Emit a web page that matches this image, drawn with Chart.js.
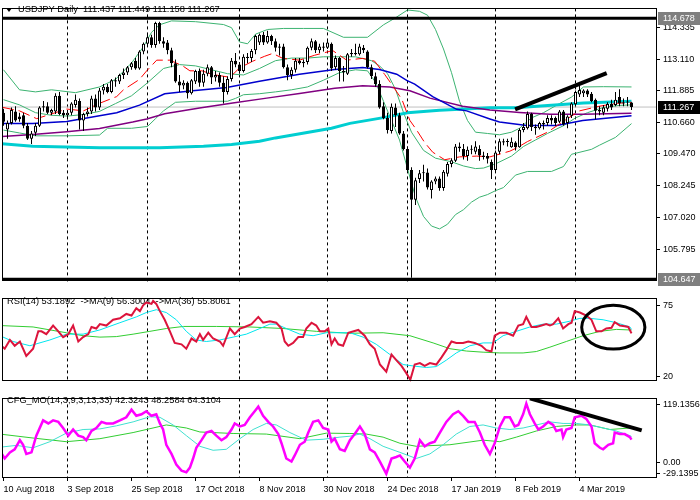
<!DOCTYPE html>
<html>
<head>
<meta charset="utf-8">
<title>USDJPY Daily</title>
<script src="https://cdn.jsdelivr.net/npm/chart.js@4.4.1/dist/chart.umd.min.js"></script>
<style>
  html, body { margin: 0; padding: 0; background: #fff; }
  #wrap { position: relative; width: 700px; height: 500px; overflow: hidden; }
  canvas { position: absolute; left: 0; }
</style>
</head>
<body>
<div id="wrap">
  <canvas id="mainChart" width="700" height="290" style="top:0"></canvas>
  <canvas id="rsiChart" width="700" height="100" style="top:290px"></canvas>
  <canvas id="cfgChart" width="700" height="110" style="top:390px"></canvas>
</div>
<script>
// ---- time axis ----
const tickIdx = [0, 16, 32, 48, 64, 80, 96, 112, 128, 144];
const tickText = ['10 Aug 2018', '3 Sep 2018', '25 Sep 2018', '17 Oct 2018', '8 Nov 2018',
                  '30 Nov 2018', '24 Dec 2018', '17 Jan 2019', '8 Feb 2019', '4 Mar 2019'];
const monthStartIdx = [16, 36, 59, 81, 101, 123, 143];

// ---- daily candles (bar 0 = 10 Aug 2018) ----
const openP = [
  111.05,110.40,110.65,111.10,110.90,110.95,110.55,110.05,110.28,110.55,
  111.25,111.30,111.05,111.10,111.70,111.05,110.95,111.05,111.35,111.50,
  110.75,111.00,111.10,111.60,111.25,111.90,112.05,111.85,112.30,112.25,
  112.50,112.60,112.80,113.05,112.75,113.40,113.70,113.95,113.65,114.50,
  113.80,113.75,113.45,112.95,112.25,112.10,112.20,111.80,112.25,112.65,
  112.20,112.55,112.80,112.40,112.50,112.20,111.85,112.35,113.05,112.90,
  112.65,113.20,113.15,113.45,113.75,114.05,113.75,114.00,113.80,113.55,
  113.60,112.80,112.50,112.70,113.05,112.95,113.00,113.55,113.80,113.45,
  113.60,113.55,113.70,112.80,113.15,112.65,112.55,113.30,113.35,113.30,
  113.55,113.40,112.80,112.45,112.15,111.30,110.85,110.35,111.25,110.95,
  110.25,109.65,108.85,107.70,108.50,108.72,108.75,108.08,108.40,108.52,
  108.15,108.70,109.08,109.20,109.75,109.65,109.38,109.62,109.55,109.65,
  109.40,109.38,109.15,108.85,109.55,109.90,109.95,109.72,109.90,109.72,
  110.38,110.45,111.00,110.50,110.45,110.65,110.65,110.85,110.85,110.70,
  111.10,110.65,110.93,111.37,111.75,111.80,111.90,111.78,111.55,111.10,
  111.05,111.20,111.38,111.35,111.65,111.40,111.44,111.437
];
const highP = [
  111.20,110.75,111.25,111.30,111.05,111.05,110.65,110.35,110.65,111.30,
  111.50,111.45,111.20,111.80,111.85,111.15,111.15,111.45,111.75,111.60,
  111.05,111.25,111.70,111.75,112.00,112.15,112.15,112.35,112.40,112.55,
  112.75,112.85,113.00,113.15,113.45,113.75,114.05,114.05,114.55,114.55,
  113.95,113.85,113.55,113.10,112.50,112.30,112.25,112.35,112.70,112.75,
  112.70,112.90,112.85,112.65,112.60,112.45,112.45,113.15,113.35,113.00,
  113.30,113.35,113.50,114.05,114.10,114.15,114.20,114.05,113.90,113.70,
  113.70,112.90,112.80,113.15,113.15,113.10,113.60,113.90,113.85,113.70,
  113.75,113.85,113.75,113.25,113.20,112.85,113.35,113.50,113.70,113.70,
  113.65,113.45,112.90,112.60,112.30,111.45,111.05,111.40,111.40,111.05,
  110.35,109.75,108.95,108.55,108.85,109.05,108.90,108.45,108.60,108.60,
  108.85,109.15,109.30,109.85,109.90,109.85,109.75,109.80,109.95,109.80,
  109.55,109.50,109.25,109.60,110.05,110.05,110.05,110.10,109.95,110.45,
  110.65,111.10,111.05,110.60,110.70,110.75,110.95,110.95,110.90,111.15,
  111.15,110.95,111.45,111.90,112.10,111.95,111.95,111.85,111.60,111.30,
  111.35,111.45,111.55,111.85,111.95,111.60,111.65,111.449
];
const lowP = [
  110.55,110.05,110.60,110.70,110.70,110.45,110.00,109.85,110.15,110.50,
  111.10,111.00,110.95,111.00,110.95,110.85,110.80,110.95,111.25,110.40,
  110.35,110.90,111.00,111.10,111.15,111.75,111.80,111.80,112.05,112.15,
  112.35,112.50,112.70,112.70,112.70,113.30,113.60,113.55,113.55,113.70,
  113.55,113.30,112.80,112.20,111.85,111.95,111.60,111.75,112.15,112.05,
  112.05,112.45,112.15,112.25,112.05,111.40,111.75,112.25,112.80,112.55,
  112.60,112.95,113.00,113.30,113.65,113.65,113.70,113.65,113.40,113.25,
  112.75,112.30,112.35,112.60,112.90,112.80,112.90,113.45,113.35,113.35,
  113.40,113.50,112.65,112.70,112.25,112.25,112.50,113.20,113.25,113.25,
  113.35,112.75,112.35,112.05,111.20,110.80,110.25,110.25,110.50,110.20,
  109.60,108.80,104.70,107.50,108.35,108.40,108.10,107.75,108.30,108.05,
  108.05,108.60,108.95,109.15,109.55,109.25,109.20,109.45,109.45,109.20,
  109.25,109.10,108.50,108.75,109.45,109.80,109.75,109.70,109.60,109.70,
  110.30,110.40,110.35,110.20,110.40,110.40,110.55,110.60,110.55,110.65,
  110.55,110.45,110.85,111.30,111.65,111.65,111.65,111.45,110.80,110.95,
  110.95,111.10,111.15,111.30,111.30,111.30,111.30,111.158
];
const closeP = [
  110.70,110.65,111.15,110.75,110.80,110.55,110.05,110.25,110.55,111.25,
  111.30,111.05,111.15,111.70,111.00,110.95,111.05,111.40,111.55,110.75,
  111.00,111.10,111.60,111.25,111.90,112.05,111.85,112.30,112.25,112.50,
  112.60,112.80,112.95,112.75,113.40,113.70,113.95,113.65,114.50,113.80,
  113.70,113.45,112.95,112.25,112.10,112.20,111.80,112.30,112.65,112.20,
  112.55,112.80,112.40,112.50,112.20,111.85,112.35,113.05,112.90,112.65,
  113.20,113.15,113.42,114.00,114.05,113.75,114.00,113.80,113.55,113.60,
  112.80,112.50,112.70,113.05,112.95,113.00,113.55,113.80,113.45,113.60,
  113.55,113.75,112.75,113.15,112.65,112.60,113.30,113.35,113.30,113.60,
  113.45,112.80,112.45,112.15,111.25,110.85,110.38,111.28,110.95,110.25,
  109.65,108.85,107.70,108.45,108.72,108.75,108.17,108.40,108.52,108.15,
  108.78,109.08,109.22,109.75,109.68,109.38,109.62,109.66,109.75,109.40,
  109.35,109.28,108.85,109.52,109.95,109.95,109.92,109.93,109.72,110.38,
  110.50,111.00,110.50,110.45,110.65,110.60,110.85,110.75,110.65,111.10,
  110.60,110.90,111.40,111.85,111.92,111.90,111.75,111.50,111.12,111.15,
  111.25,111.38,111.25,111.55,111.40,111.44,111.45,111.267
];

// ---- price overlays (bar index, price) ----
const bbUpIdx = [0,4,8,12,18,24,28,32,35,37,39,42,48,55,57,59,61,63,66,70,75,80,85,91,95,98,101,104,106,108,110,112,114,116,118,121,124,127,129,132,135,139,142,145,150,157];
const bbUp = [112.70,111.93,111.85,111.93,111.82,112.04,112.33,112.96,113.59,114.14,114.43,114.58,114.55,114.44,114.32,113.77,113.70,114.07,114.25,114.29,114.29,114.29,113.95,113.95,114.43,114.70,115.00,114.95,114.80,114.25,113.50,112.59,111.49,110.75,110.30,110.25,110.20,110.30,110.45,110.85,111.05,111.40,111.65,112.04,112.05,112.04];
const bbMidIdx = [0,4,8,12,16,20,24,28,32,36,40,44,48,52,56,60,64,68,72,76,80,84,88,92,94,96,98,100,102,105,108,112,115,118,120,123,127,130,133,136,140,143,146,150,154,157];
const bbMid = [111.55,111.35,111.05,110.95,110.92,110.98,111.10,111.40,111.70,112.20,112.75,112.90,112.85,112.70,112.55,112.50,112.75,113.05,113.15,113.15,113.20,113.20,113.20,113.05,112.85,112.55,111.95,111.05,110.30,109.60,109.30,109.16,109.00,108.90,108.92,109.08,109.38,109.75,110.00,110.25,110.55,110.85,111.05,111.25,111.33,111.35];
const bbLowIdx = [0,4,8,16,24,26,32,36,38,40,43,48,56,58,60,64,68,72,76,80,84,88,91,93,95,97,99,101,103,105,107,109,111,113,115,117,119,121,123,125,128,131,137,140,142,147,149,153,157];
const bbLow = [110.38,110.27,110.16,110.16,110.19,110.45,110.45,110.52,110.82,111.12,111.45,111.49,111.49,111.60,111.74,111.78,111.85,111.93,112.04,112.30,112.59,112.70,112.66,112.22,111.49,110.75,110.00,108.90,107.80,107.06,106.69,106.58,106.76,107.13,107.32,107.61,107.80,107.90,108.05,108.17,108.65,108.79,108.79,108.98,109.45,109.64,109.80,110.10,110.63];

const maFastIdx = [-0.4,4,8.3,15.8,20,24,28.3,30,34,35.8,38.3,41.6,44.8,46.6,49.6,52.3,56.6,59,62.3,65.3,67.3,69.8,74,77.8,82.3,85.8,89.8,92.8,95.3,97,99.6,101.6,103.3,105.3,107.3,110.3,114,118.3,121.6,126.6,128.6,131,136,140.3,144,149,153.3,157];
const maFast = [111.26,111.12,110.82,111.19,111.12,111.41,111.67,111.93,112.33,112.66,113.07,113.07,112.85,112.66,112.66,112.52,112.41,112.77,113.03,113.22,113.33,113.14,113.07,113.26,113.44,113.07,113.14,113.03,112.52,112.15,111.56,110.75,110.38,109.90,109.53,109.24,109.35,109.38,109.35,109.57,109.72,109.94,110.30,110.75,111.12,111.30,111.41,111.45];
const ma50Idx = [-0.4,7.3,15.8,24,28.3,34,40.3,47.3,55.8,64,74,82.8,89.8,94,98.3,100.8,102.8,107.3,113.3,115.8,121.6,124,130.8,138.3,144.8,157];
const ma50 = [110.63,110.63,110.71,110.93,111.05,111.34,111.78,111.89,112.02,112.26,112.53,112.71,112.79,112.71,112.53,112.29,112.15,111.67,111.18,111.12,110.81,110.69,110.56,110.56,110.75,110.93];
const ma100Idx = [-0.4,7.3,15.8,24,32.3,35.8,40.3,49,57.3,65.8,74,82.8,89.8,96.6,101.6,106.6,114.8,121.6,129,136.6,144.8,157];
const ma100 = [110.13,110.21,110.32,110.44,110.69,110.81,111.01,111.23,111.42,111.61,111.79,111.99,112.09,112.04,111.89,111.61,111.30,111.15,111.06,110.99,110.99,111.03];
const ma200Idx = [-0.4,7.3,24,39,50,57,64,68,82,86.6,95,101,109,121.6,128,145,157];
const ma200 = [109.86,109.76,109.70,109.70,109.76,109.83,109.95,110.08,110.45,110.64,110.86,111.05,111.14,111.24,111.24,111.42,111.49];

const priceTicks = [114.335, 113.110, 111.885, 110.660, 109.470, 108.245, 107.020, 105.795];
const hLevels = [114.678, 104.647];
const bidLevel = 111.267;
const trendMainIdx = [127.9, 150.8];
const trendMainVal = [111.18, 112.57];

// ---- RSI(14) with MA(9) and MA(36) ----
const rsiIdx = [-0.9,0.3,1.6,2.8,4.1,5.7,7.4,8.7,9.5,10.7,12.4,13.7,14.9,16.2,17.4,18.7,19.9,21.2,22.0,23.2,24.1,25.7,27.4,29.1,30.7,32.0,33.2,34.1,34.9,35.7,37.0,37.4,38.2,39.1,40.3,41.6,42.8,44.5,45.7,47.0,48.2,49.1,49.9,51.2,52.4,54.1,54.9,56.6,57.8,59.1,60.3,62.0,63.7,64.9,66.6,68.2,69.5,70.3,71.2,72.4,73.7,74.9,75.7,77.0,78.2,79.1,80.3,81.2,82.0,82.8,83.7,84.9,86.2,
  88.7,90.3,91.6,92.8,94.1,95.7,97.0,98.2,99.5,100.7,101.7,102.8,104.1,105.3,106.6,108.2,109.5,110.7,112.0,113.2,114.9,116.2,117.8,119.5,120.7,122.0,122.8,124.1,125.7,127.4,128.7,129.9,130.7,132.0,133.2,134.5,135.7,136.6,137.4,138.7,139.9,141.2,142.0,142.8,144.1,145.7,147.0,148.2,149.5,150.7,152.0,152.8,154.1,155.3,156.2,157.0];
const rsiVal = [44.7,41.3,48.1,43.6,46.9,35.7,41.3,54.8,54.8,52.6,59.3,54.8,50.3,52.6,59.3,46.9,50.3,52.6,58.2,57.0,60.4,59.3,63.8,64.9,68.3,67.1,72.8,70.5,75.0,77.2,76.1,78.4,76.1,70.5,63.8,54.8,45.8,44.7,41.3,49.2,46.9,52.6,48.1,53.7,49.2,46.9,43.6,57.0,52.6,57.0,58.2,60.4,66.0,61.5,62.7,61.5,57.0,46.9,43.6,45.8,50.3,50.3,57.0,61.5,59.3,54.8,54.8,57.0,44.7,49.2,44.7,43.6,53.7,
  55.9,51.4,44.7,41.3,29.0,23.4,36.8,32.4,27.9,22.3,17.1,29.0,30.1,27.9,30.1,29.0,34.6,40.2,46.9,45.8,45.8,46.9,45.8,43.6,40.2,39.1,51.4,53.7,53.7,51.4,59.3,60.4,66.0,58.2,58.2,59.3,60.4,59.3,60.4,64.9,57.0,60.4,61.5,70.5,69.4,67.1,63.8,54.8,54.8,57.0,57.5,62.0,59.3,58.8,58.2,53.2];
const rsiMa9Idx = [-0.9,2.4,6.6,11.6,15.7,19.9,24.1,29.1,33.2,35.7,38.2,40.7,43.2,45.7,48.2,50.7,54.1,57.4,60.7,64.1,66.6,68.2,70.7,74.1,77.4,80.7,84.1,86.6,89.9,93.2,96.6,99.9,102.4,105.7,108.2,110.7,113.2,116.6,119.9,122.4,124.9,128.2,131.6,134.9,138.2,141.6,144.1,146.6,149.9,153.2,156.6,157];
const rsiMa9 = [51.4,46.9,43.6,48.1,52.6,52.6,55.9,61.5,66.0,69.4,71.6,69.4,63.8,54.8,48.1,46.9,48.1,50.3,52.6,57.0,60.4,60.4,57.0,52.6,51.4,53.7,53.7,53.7,50.3,44.7,36.8,29.0,27.9,26.7,27.4,32.4,38.0,43.6,45.8,45.8,51.4,54.8,58.2,60.4,60.4,62.7,64.9,64.9,63.8,61.5,58.2,56.3];
const rsiMa36Idx = [-0.9,7.4,15.7,19.9,24.1,28.2,32.4,36.6,40.7,45.0,53.2,61.6,69.9,78.2,86.6,94.9,101.6,107.4,111.6,115.7,119.9,124.1,129.9,133.2,136.6,140.7,144.9,149.1,153.2,157];
const rsiMa36 = [59.3,58.2,53.7,51.4,50.3,50.7,52.6,54.8,57.0,58.6,58.6,58.2,57.0,54.8,53.3,53.7,51.4,45.8,41.3,39.5,38.6,38.0,38.0,39.1,42.5,46.9,51.4,54.8,56.3,55.8];
const rsiTicks = [75, 20];
const rsiEllipse = { idx: 152.45, val: 58.0, halfBars: 7.9, halfVal: 17.0 };

// ---- CFG_MO(14,3,9,3,13,33) ----
const cfgIdx = [-0.9,0.3,1.6,2.8,4.1,4.9,5.7,7.0,8.2,9.9,11.2,12.4,13.7,14.9,16.2,17.4,18.7,19.9,20.7,22.0,23.2,24.5,25.7,27.4,29.1,30.7,32.0,33.2,34.5,35.7,37.0,38.2,39.1,39.9,40.7,42.0,43.2,44.5,45.7,46.6,47.4,48.2,49.5,50.7,52.0,53.2,54.5,55.7,57.0,57.8,59.1,60.3,61.6,62.8,63.7,64.9,66.2,67.4,68.7,69.5,70.7,72.0,72.8,74.1,75.3,76.2,77.4,78.7,79.9,81.2,82.0,82.8,84.1,85.3,86.6,
  87.8,89.1,90.3,91.6,92.8,94.1,95.7,97.0,98.2,99.1,100.3,101.6,102.8,104.1,105.3,106.6,107.8,109.1,110.7,112.4,113.7,114.9,116.2,117.8,119.1,120.3,121.6,122.8,124.1,125.3,126.6,127.8,128.7,129.9,130.7,131.6,132.8,133.7,134.9,136.2,137.4,138.2,139.5,139.9,140.7,142.0,142.8,144.5,145.7,147.0,147.8,149.1,149.9,151.2,152.4,152.8,154.1,155.3,156.6,157.0];
const cfgMain = [21.4,7.2,18.6,24.3,41.3,32.8,15.7,18.6,49.8,78.2,72.5,78.2,75.4,64.0,49.8,61.2,49.8,47.0,41.3,58.4,64.0,75.4,72.5,72.5,78.2,83.9,98.1,86.7,89.6,95.3,86.7,89.6,72.5,61.2,32.8,15.7,-4.2,-15.5,-18.4,-9.8,7.2,27.1,41.3,55.5,58.4,49.8,41.3,47.0,61.2,72.5,66.9,69.7,83.9,95.3,103.8,86.7,75.4,66.9,52.7,35.6,7.2,1.5,12.9,32.8,38.5,55.5,75.4,78.2,64.0,61.2,38.5,44.1,24.3,21.4,41.3,
  52.7,66.9,52.7,24.3,18.6,1.5,-21.2,7.2,10.0,12.9,1.5,-9.8,7.2,41.3,29.9,35.6,38.5,55.5,75.4,89.6,95.3,86.7,75.4,75.4,55.5,32.8,15.7,35.6,66.9,83.9,83.9,66.9,69.7,89.6,109.5,89.6,72.5,61.2,66.9,75.4,69.7,58.4,61.2,47.0,61.2,64.0,83.9,86.7,81.0,66.9,35.6,27.1,24.3,32.8,35.6,55.5,52.7,52.7,47.0,42.3];
const cfgSigIdx = [-0.9,3.2,7.4,11.6,15.7,19.9,24.1,28.2,32.4,36.6,39.1,42.4,45.7,49.1,52.4,55.7,59.1,62.4,65.7,68.2,71.6,75.7,79.9,84.1,86.6,89.1,91.6,94.9,99.1,103.2,106.6,109.9,113.2,116.6,119.9,123.2,126.6,129.9,133.2,136.6,139.9,143.2,146.6,149.9,153.2,156.6,157];
const cfgSig = [28.2,31.6,27.1,38.5,54.4,61.2,62.3,68.0,75.4,85.0,83.9,69.7,49.8,29.9,22.5,24.3,44.1,61.2,72.5,69.7,55.5,41.3,43.0,47.0,48.7,52.7,44.1,29.9,18.6,7.2,15.7,32.8,52.7,66.9,69.7,64.0,61.2,64.0,69.7,75.4,72.5,72.5,69.7,64.0,58.4,49.8,48.3];
const cfgSlowIdx = [-0.9,7.4,15.7,24.1,32.4,40.7,45.7,49.1,57.4,65.7,74.1,80.7,86.6,90.7,94.9,99.1,103.2,111.6,119.9,124.1,128.2,133.2,138.2,143.2,146.6,151.6,156.6,157];
const cfgSlow = [52.7,45.3,38.5,44.1,55.5,69.7,64.0,56.6,53.8,52.7,44.1,54.4,53.8,52.7,47.0,35.6,29.9,32.8,41.3,38.5,47.0,58.4,66.9,69.7,69.7,61.2,64.0,64.3];
const cfgTickAt = [107.2, 0, -20.1];
const cfgTickText = ['119.1356', '0.00', '-29.1395'];
const trendCfgIdx = [131.6, 159.55];
const trendCfgVal = [119.1, 59.5];

// ---- shared setup ----
const X_MIN = -0.375, X_MAX = 163.375;
const FONT_FAMILY = "'Liberation Sans', Arial, sans-serif";
const AXIS_SIZE = 9;
const TITLE_CSS = '9.3px ' + FONT_FAMILY;
const BOX_CSS = AXIS_SIZE + 'px ' + FONT_FAMILY;
Chart.defaults.font.family = FONT_FAMILY;
Chart.defaults.font.size = AXIS_SIZE;
Chart.defaults.color = '#000';

const pts = (xs, ys) => xs.map((x, i) => ({ x, y: ys[i] }));
const flat = v => [{ x: X_MIN, y: v }, { x: X_MAX, y: v }];

function line(data, color, width, order, extra) {
  return Object.assign({
    type: 'line', data, borderColor: color, borderWidth: width,
    pointRadius: 0, tension: 0, fill: false, order, borderCapStyle: 'butt'
  }, extra || {});
}

function xScales(showLabels) {
  return {
    x: {
      type: 'linear', min: X_MIN, max: X_MAX, offset: false,
      grid: { display: showLabels, drawOnChartArea: false, drawTicks: true, tickLength: 3, color: '#000' },
      border: { display: false },
      ticks: {
        display: showLabels, autoSkip: false, maxRotation: 0, align: 'start', padding: 3, color: '#000',
        callback: v => { const k = tickIdx.indexOf(v); return k >= 0 ? tickText[k] : ''; }
      },
      afterBuildTicks: s => { s.ticks = tickIdx.map(v => ({ value: v })); },
      afterFit: s => { s.height = showLabels ? 22 : 0; }
    },
    sep: {
      type: 'linear', min: X_MIN, max: X_MAX, offset: false, position: 'bottom',
      grid: { color: '#000', lineWidth: 1, drawTicks: false },
      border: { display: false, dash: [3, 3] },
      ticks: { display: false, autoSkip: false },
      afterBuildTicks: s => { s.ticks = monthStartIdx.map(v => ({ value: v })); },
      afterFit: s => { s.height = 0; }
    }
  };
}

function yAxis(min, max, vals, fmt) {
  return {
    position: 'right', min, max,
    grid: { display: true, drawOnChartArea: false, drawTicks: true, tickLength: 3, color: '#000' },
    border: { display: false },
    ticks: { autoSkip: false, padding: 3, color: '#000', callback: fmt },
    afterBuildTicks: s => { s.ticks = vals.map(v => ({ value: v })); },
    afterFit: s => { s.width = 43; }
  };
}

function baseOptions(scales, padding) {
  return {
    responsive: false, animation: false, events: [],
    layout: { padding, autoPadding: false },
    plugins: { legend: { display: false }, tooltip: { enabled: false } },
    scales
  };
}

function drawFrame(chart) {
  const { ctx, chartArea: a } = chart;
  ctx.save();
  ctx.strokeStyle = '#000';
  ctx.lineWidth = 1;
  ctx.strokeRect(Math.round(a.left) + 0.5, Math.round(a.top) + 0.5,
                 Math.round(a.right - a.left) - 1, Math.round(a.bottom - a.top) - 1);
  ctx.restore();
}

function drawTitle(chart, text, x, y) {
  const ctx = chart.ctx;
  ctx.save();
  ctx.font = TITLE_CSS;
  ctx.fillStyle = '#000';
  ctx.textBaseline = 'middle';
  ctx.fillText(text, x, y);
  ctx.restore();
}

// ---- main price chart ----
const bars = closeP.map((_, i) => i);
const wickData = bars.map(i => ({ x: i, y: [lowP[i], highP[i]] }));
const bodyData = bars.map(i => ({ x: i, y: [openP[i], closeP[i]] }));
const bodyFill = bars.map(i => (closeP[i] >= openP[i] ? '#ffffff' : '#000000'));

new Chart(document.getElementById('mainChart'), {
  type: 'line',
  data: {
    datasets: [
      line(pts(trendMainIdx, trendMainVal), '#000000', 4, 0),
      line(flat(hLevels[0]), '#000000', 3, 1),
      line(flat(hLevels[1]), '#000000', 3, 1),
      {
        type: 'bar', data: bodyData, backgroundColor: bodyFill, borderColor: '#000000',
        borderWidth: 1, borderSkipped: false, barThickness: 3, grouped: false,
        minBarLength: 1, inflateAmount: 0, order: 2
      },
      {
        type: 'bar', data: wickData, backgroundColor: '#000000', borderWidth: 0,
        barThickness: 1, grouped: false, inflateAmount: 0, order: 3
      },
      line(pts(maFastIdx, maFast), '#ff0000', 1, 4, { borderDash: [12, 5] }),
      line(pts(ma50Idx, ma50), '#0000cd', 1.5, 5),
      line(pts(ma100Idx, ma100), '#800080', 1.5, 6),
      line(pts(ma200Idx, ma200), '#00ced1', 3, 7),
      line(pts(bbUpIdx, bbUp), '#3cb371', 1, 8),
      line(pts(bbMidIdx, bbMid), '#3cb371', 1, 8),
      line(pts(bbLowIdx, bbLow), '#3cb371', 1, 8),
      line(flat(bidLevel), '#c0c0c0', 1, 9)
    ]
  },
  options: baseOptions(
    Object.assign(xScales(false), { y: yAxis(104.553, 115.061, priceTicks, v => v.toFixed(3)) }),
    { left: 2, right: 0, top: 3, bottom: 2 }
  ),
  plugins: [{
    id: 'mainDecor',
    beforeDatasetsDraw(chart) {
      const ctx = chart.ctx;
      ctx.save();
      ctx.fillStyle = '#000';
      ctx.beginPath();
      ctx.moveTo(6, 8); ctx.lineTo(12, 8); ctx.lineTo(9, 12); ctx.closePath();
      ctx.fill();
      ctx.restore();
      drawTitle(chart, 'USDJPY Daily  111.437 111.449 111.158 111.267', 18, 9);
    },
    afterDraw(chart) {
      drawFrame(chart);
      const ctx = chart.ctx, ys = chart.scales.y;
      const boxes = [[hLevels[0], '#7f7f7f'], [bidLevel, '#000000'], [hLevels[1], '#7f7f7f']];
      ctx.save();
      ctx.font = BOX_CSS;
      ctx.textBaseline = 'middle';
      boxes.forEach(([v, bg]) => {
        const y = Math.round(ys.getPixelForValue(v));
        ctx.fillStyle = bg;
        ctx.fillRect(658, y - 6, 42, 13);
        ctx.fillStyle = '#ffffff';
        ctx.fillText(v.toFixed(3), 663, y + 0.5);
      });
      ctx.restore();
    }
  }]
});

// ---- RSI panel ----
new Chart(document.getElementById('rsiChart'), {
  type: 'line',
  data: {
    datasets: [
      line(pts(rsiIdx, rsiVal), '#dc143c', 2, 0),
      line(pts(rsiMa9Idx, rsiMa9), '#00e5ee', 1, 1),
      line(pts(rsiMa36Idx, rsiMa36), '#32cd32', 1, 2)
    ]
  },
  options: baseOptions(
    Object.assign(xScales(false), { y: yAxis(15.74, 80.39, rsiTicks, v => String(v)) }),
    { left: 2, right: 0, top: 2, bottom: 2 }
  ),
  plugins: [{
    id: 'rsiDecor',
    beforeDatasetsDraw(chart) {
      drawTitle(chart, 'RSI(14) 53.1892  ->MA(9) 56.3004  ->MA(36) 55.8061', 7, 11);
    },
    afterDatasetsDraw(chart) {
      const ctx = chart.ctx, xs = chart.scales.x, ys = chart.scales.y;
      const cx = xs.getPixelForValue(rsiEllipse.idx);
      const cy = ys.getPixelForValue(rsiEllipse.val);
      const rx = xs.getPixelForValue(rsiEllipse.idx + rsiEllipse.halfBars) - cx;
      const ry = cy - ys.getPixelForValue(rsiEllipse.val + rsiEllipse.halfVal);
      ctx.save();
      ctx.strokeStyle = '#000';
      ctx.lineWidth = 3;
      ctx.beginPath();
      ctx.ellipse(cx, cy, rx, ry, 0, 0, Math.PI * 2);
      ctx.stroke();
      ctx.restore();
    },
    afterDraw: drawFrame
  }]
});

// ---- CFG_MO panel ----
new Chart(document.getElementById('cfgChart'), {
  type: 'line',
  data: {
    datasets: [
      line(pts(trendCfgIdx, trendCfgVal), '#000000', 4, 0),
      line(pts(cfgIdx, cfgMain), '#ff00ff', 2.5, 1),
      line(pts(cfgSigIdx, cfgSig), '#40e0d0', 1, 2),
      line(pts(cfgSlowIdx, cfgSlow), '#32cd32', 1, 3)
    ]
  },
  options: baseOptions(
    Object.assign(xScales(true), {
      y: yAxis(-29.1395, 119.1356, cfgTickAt, v => cfgTickText[cfgTickAt.indexOf(v)])
    }),
    { left: 2, right: 0, top: 1, bottom: 0 }
  ),
  plugins: [{
    id: 'cfgDecor',
    beforeDatasetsDraw(chart) {
      drawTitle(chart, 'CFG_MO(14,3,9,3,13,33) 42.3243 48.2584 64.3104', 7, 10);
    },
    afterDraw: drawFrame
  }]
});
</script>
</body>
</html>
